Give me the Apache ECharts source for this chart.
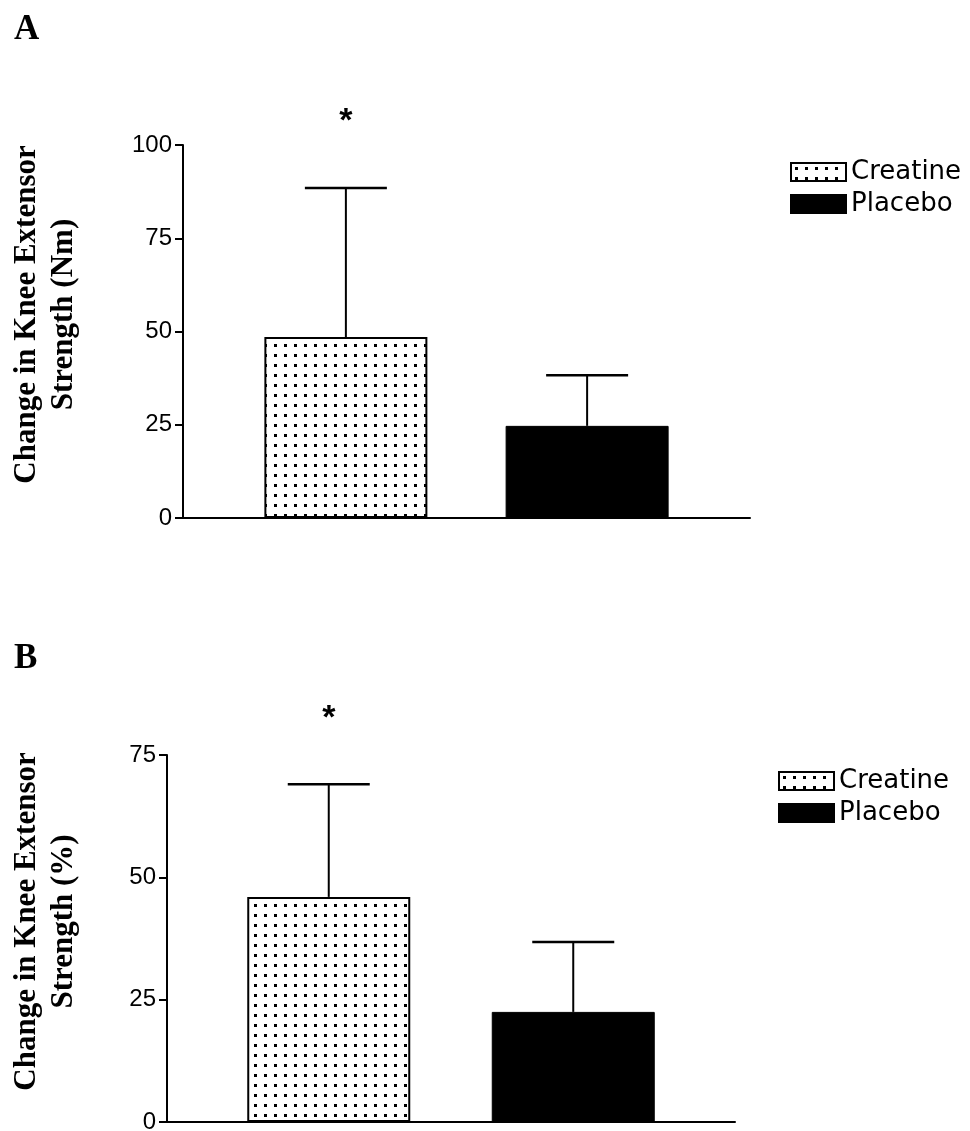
<!DOCTYPE html>
<html>
<head>
<meta charset="utf-8">
<script src="https://cdn.jsdelivr.net/npm/echarts@6/dist/echarts.min.js"></script>
<style>
  html, body { margin: 0; padding: 0; background: #ffffff; }
  #chart { width: 970px; height: 1131px; }
</style>
</head>
<body>
<div id="chart"></div>
<script>
// ---- data ----
const groups = ['Creatine', 'Placebo'];
const significance = ['*', ''];

// Panel A: change in knee extensor strength (Nm)
const meansA = [48.5, 24.7];
const sdA = [40.0, 13.6];
const yTicksA = [0, 25, 50, 75, 100];

// Panel B: change in knee extensor strength (%)
const meansB = [46.0, 22.5];
const sdB = [23.0, 14.3];
const yTicksB = [0, 25, 50, 75];

// ---- styles ----
const BAR_W = 163;
const GAP_A = 0.48, GAP_B = 0.50;
const serifBold = "'Liberation Serif', 'Times New Roman', serif";
const sans = "'Liberation Sans', Arial, sans-serif";
const wideSans = "'DejaVu Sans', Arial, sans-serif";

// dotted fill pattern for Creatine
function makeDots() {
  const c = document.createElement('canvas');
  c.width = 10; c.height = 10;
  const g = c.getContext('2d');
  g.fillStyle = '#ffffff';
  g.fillRect(0, 0, 10, 10);
  g.fillStyle = '#000000';
  g.fillRect(4, 4, 3, 3);
  return c;
}
const dotPattern = { image: makeDots(), repeat: 'repeat' };

const chart = echarts.init(document.getElementById('chart'), null, { renderer: 'canvas' });

function errRender(gapFrac) {
  const half = (BAR_W + BAR_W * gapFrac) / 2;
  return function (params, api) {
    const mean = api.value(1), sd = api.value(2), idx = api.value(3);
    const sig = significance[idx];
    const dir = idx === 0 ? -1 : 1;
    const base = api.coord([0, mean]);
    const top = api.coord([0, mean + sd]);
    const x = base[0] + dir * half;
    const capHalf = 41;
    const children = [
      { type: 'line', shape: { x1: x, y1: base[1], x2: x, y2: top[1] },
        style: { stroke: '#000', lineWidth: 2 } },
      { type: 'line', shape: { x1: x - capHalf, y1: top[1], x2: x + capHalf, y2: top[1] },
        style: { stroke: '#000', lineWidth: 2.5 } }
    ];
    if (sig) {
      children.push({ type: 'text', style: {
        text: sig, x: x, y: top[1] - 66, textAlign: 'center', textVerticalAlign: 'middle',
        font: 'bold 34px ' + sans, fill: '#000' } });
    }
    return { type: 'group', children: children };
  };
}

function yAxisCfg(gridIndex, ticks, name, gap) {
  return {
    type: 'value', gridIndex: gridIndex,
    min: ticks[0], max: ticks[ticks.length - 1], interval: ticks[1] - ticks[0],
    name: name, nameLocation: 'middle', nameGap: gap,
    nameTextStyle: { fontFamily: serifBold, fontWeight: 'bold', fontSize: 31, lineHeight: 37,
      color: '#000', padding: [0, 0, 0, 34] },
    axisLine: { show: true, lineStyle: { color: '#000', width: 2 } },
    axisTick: { show: true, length: 8, lineStyle: { color: '#000', width: 2 } },
    axisLabel: { fontFamily: sans, fontSize: 24, color: '#000', margin: 11 },
    splitLine: { show: false }
  };
}

function xAxisCfg(gridIndex) {
  return {
    type: 'category', gridIndex: gridIndex, data: ['Group'],
    axisLine: { show: true, lineStyle: { color: '#000', width: 2 } },
    axisTick: { show: false }, axisLabel: { show: false }, splitLine: { show: false }
  };
}

const barStyle = [
  { color: dotPattern, borderColor: '#000', borderWidth: 2 },
  { color: '#000', borderColor: '#000', borderWidth: 1 }
];

function barSeries(panel, means, gapFrac) {
  return groups.map((g, i) => ({
    type: 'bar', name: g, xAxisIndex: panel, yAxisIndex: panel,
    data: [means[i]], barWidth: BAR_W, barGap: (gapFrac * 100) + '%',
    itemStyle: barStyle[i], emphasis: { disabled: true }, animation: false
  }));
}

function errSeries(panel, means, sds, gapFrac) {
  return {
    type: 'custom', name: 'err' + panel, xAxisIndex: panel, yAxisIndex: panel,
    renderItem: errRender(gapFrac), clip: false, animation: false, silent: true,
    data: means.map((m, i) => [0, m, sds[i], i]), z: 5
  };
}

function legendCfg(left, top) {
  return {
    orient: 'vertical', left: left, top: top, data: groups,
    icon: 'rect', itemWidth: 55, itemHeight: 18, itemGap: 4, selectedMode: false,
    textStyle: { fontFamily: wideSans, fontSize: 26, lineHeight: 28, color: '#000' }
  };
}

const option = {
  backgroundColor: '#ffffff',
  animation: false,
  title: [
    { text: 'A', left: 9, top: 7, textStyle: { fontFamily: serifBold, fontWeight: 'bold', fontSize: 35, color: '#000' } },
    { text: 'B', left: 9, top: 636, textStyle: { fontFamily: serifBold, fontWeight: 'bold', fontSize: 35, color: '#000' } }
  ],
  legend: [legendCfg(785, 153), legendCfg(773, 762)],
  grid: [
    { left: 183, width: 567, top: 145, height: 373, containLabel: false, outerBoundsMode: 'none' },
    { left: 167, width: 568, top: 755, height: 367, containLabel: false, outerBoundsMode: 'none' }
  ],
  xAxis: [xAxisCfg(0), xAxisCfg(1)],
  yAxis: [
    yAxisCfg(0, yTicksA, 'Change in Knee Extensor\nStrength (Nm)', 101),
    yAxisCfg(1, yTicksB, 'Change in Knee Extensor\nStrength (%)', 85)
  ],
  series: [
    ...barSeries(0, meansA, GAP_A),
    errSeries(0, meansA, sdA, GAP_A),
    ...barSeries(1, meansB, GAP_B),
    errSeries(1, meansB, sdB, GAP_B)
  ]
};
chart.setOption(option);
</script>
</body>
</html>
